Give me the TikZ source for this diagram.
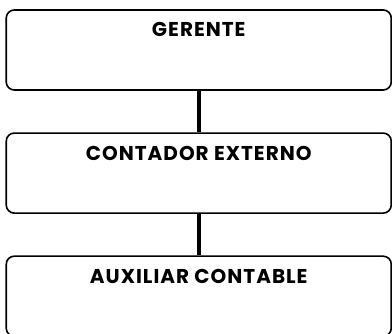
\documentclass[tikz,border=0pt]{standalone}
\usepackage{fontspec}
\setmainfont{Poppins}[LetterSpace=5]
\usetikzlibrary{positioning}

\begin{document}
\begin{tikzpicture}[x=1pt,y=1pt,
    cargo/.style={draw, line width=1.6pt, rounded corners=8pt,
      minimum width=385pt, inner ysep=12pt, text height=15pt, text depth=41pt,
      font=\fontsize{20}{22}\selectfont\bfseries},
    enlace/.style={line width=4pt},
    node distance=41.5pt]
%      \draw[help lines] (0, 0) grid (392, -334);
      \useasboundingbox (0,0) rectangle (392,-334);

      \node[cargo] (gerente) at (198.75,-50) {GERENTE};
      \node[cargo, below=of gerente] (contador) {CONTADOR EXTERNO};
      \node[cargo, below=of contador] (auxiliar) {AUXILIAR CONTABLE};

      \draw[enlace] (gerente) -- (contador);
      \draw[enlace] (contador) -- (auxiliar);
\end{tikzpicture}
\end{document}
